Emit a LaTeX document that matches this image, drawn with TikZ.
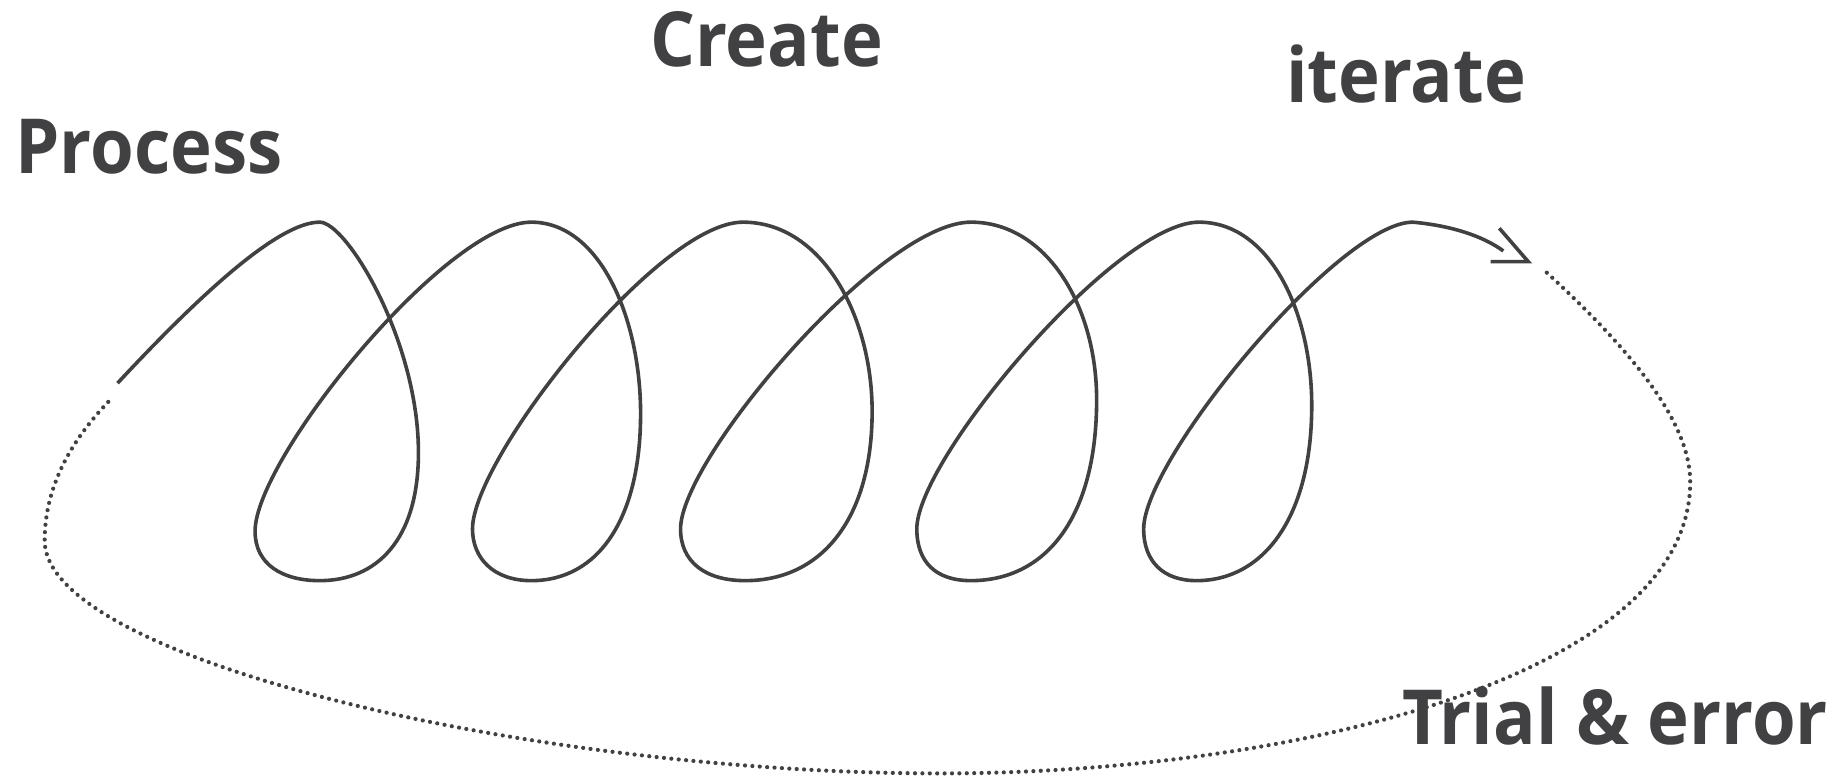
\documentclass[tikz,border=0pt]{standalone}
\usepackage{fontspec}
\newfontfamily\lblfont{Open Sans}[FakeStretch=0.93]
\definecolor{ink}{RGB}{65,64,66}
\begin{document}
\begin{tikzpicture}[x=1.1754pt,y=-1.1754pt,
  lbl/.style={inner sep=0pt,anchor=base west,text=ink,font=\lblfont\bfseries\fontsize{76}{80}\selectfont},
  spiral/.style={draw=ink,line width=3.6pt,line join=round,line cap=butt},
  loopback/.style={draw=ink,line width=4.2pt,line cap=round,dash pattern=on 0pt off 7.4pt}]
\useasboundingbox (0,0) rectangle (1568,662);
% labels
\node[lbl] (process) at (13,148) {Process};
\node[lbl] (create) at (553,57) {Create};
\node[lbl] (iterate) at (1094,87) {iterate};
% spiral
\coordinate (s0) at (100,326);
\coordinate (s1) at (1279,213.5);
\draw[spiral] (s0)
  .. controls (180,240) and (240,189) .. (272,189)
  .. controls (295,189) and (356,290) .. (356,385)
  .. controls (356,460) and (320,494) .. (272,494)
  .. controls (240,494) and (217,480) .. (217,452)
  .. controls (217,390) and (380,189) .. (452,189)
  .. controls (510,189) and (545,270) .. (545,352)
  .. controls (545,440) and (510,494) .. (452,494)
  .. controls (420,494) and (402,475) .. (402,450)
  .. controls (402,390) and (560,189) .. (632,189)
  .. controls (700,189) and (742,270) .. (742,350)
  .. controls (742,440) and (700,494) .. (634,494)
  .. controls (600,494) and (579,478) .. (579,450)
  .. controls (579,390) and (750,189) .. (826,189)
  .. controls (890,189) and (933,260) .. (933,340)
  .. controls (933,440) and (890,494) .. (826,494)
  .. controls (796,494) and (780,478) .. (780,450)
  .. controls (780,390) and (950,189) .. (1020,189)
  .. controls (1080,189) and (1116,265) .. (1116,345)
  .. controls (1116,440) and (1075,494) .. (1018,494)
  .. controls (990,494) and (973,478) .. (973,450)
  .. controls (973,390) and (1140,189) .. (1202,189)
  .. controls (1235,192) and (1262,201) .. (s1);
% open arrow head
\coordinate (tip) at (1300.2,222.6);
\coordinate (armA) at (1275.6,194.2);
\coordinate (armB) at (1268.2,222.6);
\draw[spiral,line join=miter] (armA) -- (tip) -- (armB);
% dotted loop back
\coordinate (d0) at (1316,232);
\coordinate (d1) at (93,341);
\draw[loopback] (d0)
  .. controls (1390,300) and (1438,360) .. (1438,410)
  .. controls (1438,575) and (1100,658) .. (800,658)
  .. controls (450,658) and (38,560) .. (38,460)
  .. controls (38,410) and (65,370) .. (d1);
\node[lbl] (trial) at (1193,633) {Trial \& error};
\end{tikzpicture}
\end{document}
